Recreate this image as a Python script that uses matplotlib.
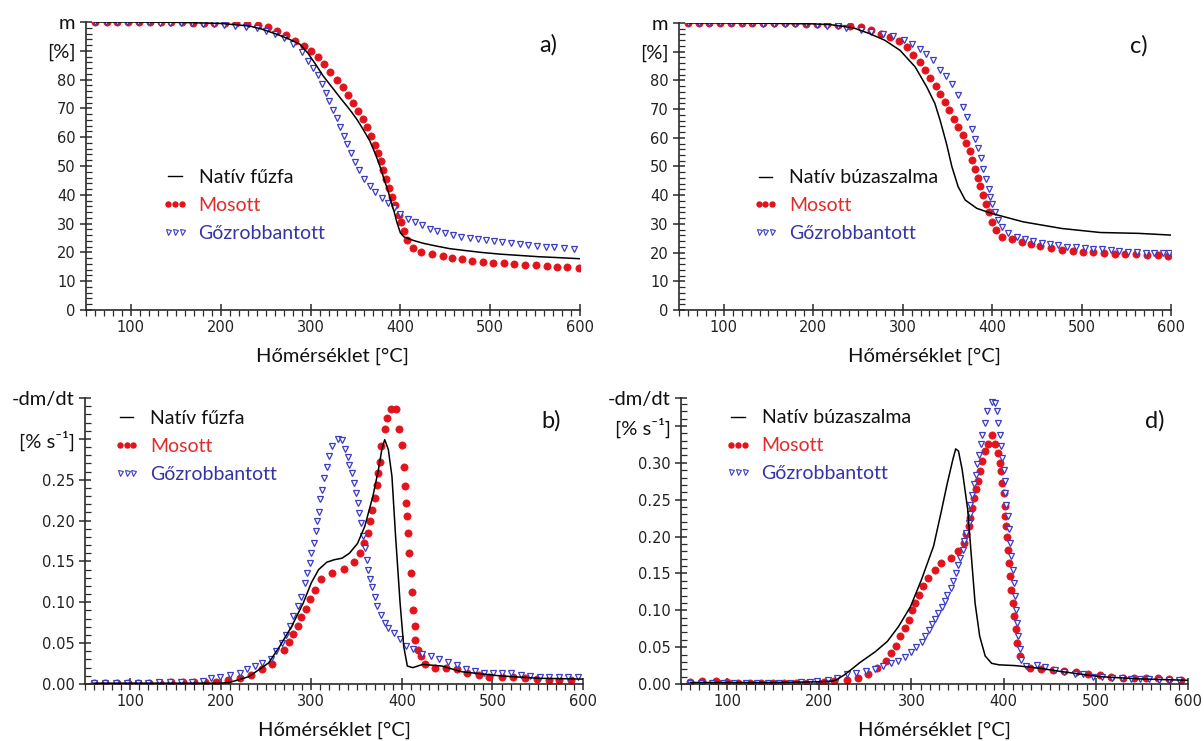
import matplotlib
matplotlib.use("Agg")
import matplotlib.pyplot as plt
from matplotlib.ticker import MultipleLocator, FixedLocator
from matplotlib.lines import Line2D

# ---------------- data ----------------
# a) willow, TG curves (mass %, vs temperature °C)
a_native_T = [60, 100, 150, 200, 232, 245, 262, 275, 288, 297, 305, 314, 320, 327, 334, 340, 346, 352,
              357, 361, 366, 370, 373, 376, 379, 382, 386, 389, 393, 396, 400, 404, 408, 415, 425,
              440, 455, 468, 490, 511, 530, 554, 575, 600]
a_native_m = [100, 100, 99.9, 99.5, 98.6, 97.6, 95.8, 94.2, 92.3, 89.2, 85.6, 81.3, 78.9, 76.1, 73.3,
              71.0, 68.6, 66.0, 63.5, 61.4, 58.7, 55.8, 53.5, 51.0, 48.3, 45.2, 41.6, 38.4, 34.2, 30.6,
              26.8, 25.4, 24.9, 24.1, 23.2, 22.2, 21.3, 20.8, 20.0, 19.4, 19.0, 18.5, 18.2, 17.8]

a_washed_T = [60, 73, 85, 97, 109, 121, 133, 145, 157, 169, 181, 193, 205, 217, 229, 241, 253, 263, 273,
              283, 293, 301, 308, 315, 322, 329, 336, 342, 347, 353, 358, 363, 367, 372, 375, 378, 381,
              384, 387, 391, 394, 398, 401, 404, 407, 414, 423, 435, 447, 457, 469, 480, 492, 503, 515,
              527, 539, 551, 563, 574, 586, 599]
a_washed_m = [100, 100, 100, 100, 100, 100, 100, 99.9, 99.9, 99.8, 99.8, 99.7, 99.6, 99.5, 99.3, 99.0,
              98.4, 97.0, 95.5, 93.5, 91.5, 90.0, 87.8, 85.3, 82.6, 80.0, 77.3, 74.5, 71.8, 69.2, 66.3,
              63.4, 60.5, 57.4, 54.5, 51.6, 48.7, 45.5, 42.5, 39.4, 36.4, 33.0, 30.4, 27.3, 24.3, 21.6,
              20.2, 19.4, 18.8, 18.2, 17.6, 17.1, 16.7, 16.4, 16.2, 16.0, 15.7, 15.5, 15.3, 15.1, 15.0,
              14.7]

a_steam_T = [60, 72, 84, 96, 108, 120, 132, 144, 156, 168, 180, 192, 204, 216, 228, 240, 250, 260, 270,
             280, 290, 297, 303, 308, 313, 317, 321, 325, 329, 333, 337, 341, 345, 349, 354, 360, 366,
             372, 379, 386, 393, 400, 408, 416, 424, 433, 441, 450, 459, 467, 477, 486, 495, 504, 513,
             523, 533, 542, 552, 562, 571, 582, 593]
a_steam_m = [100, 100, 100, 100, 99.9, 99.9, 99.8, 99.7, 99.6, 99.5, 99.4, 99.2, 99.0, 98.7, 98.3, 97.8,
             97.0, 95.8, 94.5, 92.5, 89.5, 86.5, 84.0, 81.5, 78.5, 75.5, 72.5, 69.5, 66.5, 63.5, 60.5,
             57.5, 54.5, 51.5, 48.5, 45.5, 43.0, 41.0, 39.0, 37.0, 35.5, 33.5, 31.5, 30.4, 29.4, 28.2,
             27.3, 26.6, 26.0, 25.4, 24.9, 24.5, 24.2, 23.9, 23.5, 23.2, 22.8, 22.5, 22.2, 22.0, 21.8,
             21.6, 21.3]

# c) wheat straw, TG curves
c_native_T = [60, 100, 150, 200, 220, 245, 263, 280, 297, 314, 327, 336, 342, 349, 355, 362, 370, 383,
              400, 435, 478, 521, 564, 600]
c_native_m = [100, 100, 99.9, 99.7, 99.4, 98.3, 96.3, 94.0, 90.5, 84.7, 77.7, 72.0, 66.0, 58.0, 50.0,
              43.0, 38.3, 35.4, 33.6, 30.7, 28.4, 27.0, 26.7, 26.1]

c_washed_T = [60, 72, 84, 96, 108, 120, 132, 144, 156, 168, 180, 192, 204, 216, 228, 241, 253, 265, 276,
              286, 296, 305, 312, 319, 325, 331, 337, 342, 347, 352, 357, 362, 367, 371, 375, 378, 381,
              384, 387, 390, 393, 396, 400, 404, 411, 422, 433, 443, 454, 466, 478, 490, 502, 513, 525,
              537, 549, 561, 573, 585, 597]
c_washed_m = [100, 100, 100, 100, 100, 100, 100, 100, 100, 99.9, 99.9, 99.8, 99.7, 99.6, 99.4, 99.1,
              98.6, 97.4, 96.3, 95.1, 93.6, 91.6, 89.0, 86.3, 83.5, 80.9, 78.0, 75.2, 72.5, 69.6, 66.7,
              63.8, 61.1, 58.2, 55.3, 52.4, 49.3, 46.0, 43.2, 40.0, 37.1, 34.0, 30.7, 27.8, 25.5, 24.6,
              23.8, 23.0, 22.3, 21.6, 21.0, 20.6, 20.3, 20.1, 19.8, 19.6, 19.5, 19.4, 19.1, 19.0, 18.8]

c_steam_T = [60, 72, 84, 96, 108, 120, 132, 144, 156, 168, 180, 192, 204, 216, 228, 237, 254, 265, 278,
             289, 301, 310, 319, 326, 334, 342, 349, 355, 362, 368, 372, 377, 381, 384, 388, 390, 393,
             396, 398, 400, 403, 407, 411, 418, 428, 437, 446, 456, 465, 474, 484, 494, 504, 513, 523,
             533, 542, 552, 562, 572, 581, 591, 598]
c_steam_m = [100, 100, 100, 100, 100, 99.9, 99.9, 99.8, 99.8, 99.7, 99.6, 99.5, 99.3, 99.1, 98.8, 98.3,
             97.4, 96.8, 96.3, 95.4, 94.2, 92.8, 91.0, 89.3, 87.2, 83.5, 81.4, 78.9, 74.8, 70.8, 67.3,
             63.2, 59.7, 56.3, 52.8, 49.3, 45.6, 42.3, 39.4, 37.1, 34.2, 31.3, 29.0, 26.7, 25.3, 24.6,
             24.1, 23.5, 23.1, 22.6, 22.0, 21.8, 21.5, 21.3, 21.1, 20.8, 20.5, 20.3, 20.1, 20.0, 20.0,
             19.7, 19.7]

# b) willow, DTG curves (-dm/dt, % s^-1)
b_native_T = [60, 100, 150, 200, 210, 231, 253, 265, 278, 291, 300, 308, 317, 325, 334, 342, 351, 359,
              368, 374, 378, 381, 385, 389, 393, 398, 402, 406, 412, 423, 444, 466, 508, 551, 600]
b_native_r = [0.001, 0.001, 0.001, 0.001, 0.002, 0.009, 0.026, 0.046, 0.070, 0.099, 0.124, 0.140,
              0.149, 0.152, 0.154, 0.160, 0.172, 0.193, 0.230, 0.262, 0.288, 0.299, 0.287, 0.254,
              0.181, 0.099, 0.046, 0.022, 0.020, 0.024, 0.022, 0.015, 0.010, 0.007, 0.006]

b_washed_T = [60, 72, 85, 97, 109, 121, 133, 145, 158, 170, 182, 195, 208, 221, 233, 246, 257, 270,
              275, 280, 285, 289, 294, 299, 304, 311, 323, 336, 347, 354, 358, 362, 365, 367, 370, 372,
              374, 376, 377, 381, 384, 388, 393, 397, 400, 402, 403, 405, 406, 407, 408, 410, 411, 412,
              414, 415, 418, 421, 425, 436, 449, 461, 472, 485, 496, 510, 523, 536, 549, 562, 574, 587]
b_washed_r = [0.001, 0.001, 0.001, 0.001, 0.001, 0.001, 0.001, 0.002, 0.002, 0.002, 0.002, 0.003,
              0.005, 0.007, 0.011, 0.018, 0.024, 0.041, 0.051, 0.061, 0.071, 0.082, 0.092, 0.104,
              0.115, 0.128, 0.136, 0.141, 0.149, 0.160, 0.173, 0.185, 0.199, 0.213, 0.228, 0.244,
              0.258, 0.272, 0.291, 0.312, 0.325, 0.336, 0.336, 0.312, 0.293, 0.266, 0.242, 0.221,
              0.205, 0.185, 0.160, 0.136, 0.113, 0.091, 0.071, 0.054, 0.042, 0.034, 0.024, 0.020,
              0.020, 0.018, 0.014, 0.011, 0.009, 0.009, 0.009, 0.007, 0.006, 0.005, 0.005, 0.005]

b_steam_T = [60, 72, 84, 96, 108, 120, 132, 144, 156, 168, 180, 189, 199, 210, 221, 229, 238, 246, 255,
             261, 268, 272, 276, 280, 285, 289, 293, 295, 299, 300, 303, 305, 306, 308, 310, 312, 314,
             317, 320, 323, 329, 334, 337, 340, 342, 345, 347, 349, 351, 353, 355, 357, 359, 361, 363,
             365, 367, 370, 373, 377, 381, 385, 391, 398, 405, 412, 422, 432, 441, 451, 461, 471, 481,
             491, 501, 511, 521, 532, 542, 552, 562, 573, 583, 594]
b_steam_r = [0.001, 0.001, 0.001, 0.001, 0.001, 0.001, 0.002, 0.002, 0.002, 0.003, 0.004, 0.007,
             0.009, 0.011, 0.014, 0.018, 0.022, 0.026, 0.030, 0.040, 0.050, 0.060, 0.071, 0.083,
             0.095, 0.107, 0.124, 0.136, 0.148, 0.160, 0.172, 0.187, 0.199, 0.211, 0.226, 0.238,
             0.252, 0.266, 0.279, 0.291, 0.300, 0.298, 0.287, 0.278, 0.268, 0.258, 0.246, 0.234,
             0.221, 0.209, 0.197, 0.181, 0.166, 0.152, 0.140, 0.128, 0.119, 0.107, 0.095, 0.084,
             0.075, 0.069, 0.062, 0.055, 0.047, 0.043, 0.037, 0.034, 0.031, 0.027, 0.023, 0.018,
             0.016, 0.014, 0.013, 0.013, 0.013, 0.011, 0.010, 0.009, 0.009, 0.009, 0.008, 0.008]

# d) wheat straw, DTG curves
d_native_T = [60, 100, 150, 200, 215, 219, 228, 244, 261, 274, 286, 299, 311, 324, 332, 339, 345, 348,
              351, 355, 361, 365, 369, 374, 380, 387, 395, 412, 420, 441, 462, 504, 546, 600]
d_native_r = [0.002, 0.002, 0.002, 0.003, 0.004, 0.006, 0.013, 0.029, 0.044, 0.058, 0.078, 0.105,
              0.142, 0.187, 0.232, 0.273, 0.305, 0.319, 0.316, 0.291, 0.237, 0.173, 0.110, 0.065,
              0.038, 0.028, 0.026, 0.025, 0.024, 0.021, 0.017, 0.010, 0.007, 0.005]

d_washed_T = [60, 73, 88, 100, 112, 125, 137, 150, 162, 175, 187, 200, 205, 216, 230, 242, 253, 263,
              272, 278, 283, 288, 293, 297, 301, 304, 308, 313, 318, 325, 332, 343, 351, 357, 359, 362,
              364, 366, 368, 370, 372, 374, 377, 380, 383, 387, 391, 394, 396, 397, 398, 400, 401, 402,
              403, 404, 405, 406, 407, 408, 410, 411, 413, 415, 418, 429, 441, 454, 466, 479, 491, 504,
              516, 529, 541, 554, 567, 579, 592]
d_washed_r = [0.003, 0.0045, 0.0045, 0.003, 0.002, 0.002, 0.002, 0.002, 0.002, 0.002, 0.002, 0.002,
              0.003, 0.004, 0.005, 0.008, 0.014, 0.022, 0.031, 0.042, 0.052, 0.065, 0.076, 0.087,
              0.100, 0.110, 0.121, 0.133, 0.144, 0.155, 0.164, 0.171, 0.180, 0.191, 0.203, 0.214,
              0.225, 0.239, 0.252, 0.264, 0.275, 0.289, 0.302, 0.316, 0.325, 0.338, 0.325, 0.313,
              0.300, 0.289, 0.273, 0.259, 0.241, 0.228, 0.214, 0.200, 0.182, 0.164, 0.146, 0.128,
              0.110, 0.092, 0.074, 0.056, 0.038, 0.022, 0.020, 0.019, 0.018, 0.016, 0.014, 0.012,
              0.010, 0.008, 0.008, 0.008, 0.008, 0.007, 0.006]

d_steam_T = [60, 72, 84, 96, 108, 120, 132, 144, 156, 168, 180, 190, 198, 209, 219, 230, 240, 251, 260,
             269, 278, 285, 293, 300, 305, 311, 315, 319, 322, 326, 329, 333, 336, 339, 343, 345, 348,
             350, 353, 356, 357, 359, 362, 363, 364, 366, 368, 370, 371, 373, 375, 377, 380, 382, 387,
             391, 393, 394, 396, 397, 398, 400, 401, 402, 403, 405, 406, 407, 408, 410, 411, 412, 413,
             415, 416, 418, 419, 424, 436, 445, 456, 466, 477, 486, 497, 507, 518, 528, 538, 548, 558,
             569, 579, 590]
d_steam_r = [0.001, 0.002, 0.001, 0.001, 0.001, 0.002, 0.001, 0.002, 0.002, 0.002, 0.003, 0.003,
             0.004, 0.005, 0.008, 0.013, 0.015, 0.017, 0.020, 0.024, 0.028, 0.031, 0.037, 0.043,
             0.050, 0.057, 0.065, 0.073, 0.081, 0.088, 0.096, 0.105, 0.113, 0.121, 0.130, 0.140,
             0.151, 0.161, 0.171, 0.182, 0.194, 0.205, 0.218, 0.230, 0.243, 0.257, 0.271, 0.284,
             0.298, 0.311, 0.325, 0.338, 0.354, 0.370, 0.383, 0.381, 0.370, 0.354, 0.338, 0.323,
             0.307, 0.291, 0.275, 0.259, 0.243, 0.228, 0.210, 0.191, 0.173, 0.155, 0.137, 0.119,
             0.101, 0.083, 0.065, 0.047, 0.033, 0.025, 0.026, 0.023, 0.019, 0.016, 0.014, 0.013,
             0.010, 0.010, 0.008, 0.008, 0.007, 0.007, 0.007, 0.006, 0.006, 0.005]

# labels
x_label = "Hőmérséklet [°C]"
tg_ticks = [0, 10, 20, 30, 40, 50, 60, 70, 80, 90, 100]
tg_ticklabels = ["0", "10", "20", "30", "40", "50", "60", "70", "80", "[%]", "m"]
b_ticks = [0.0, 0.05, 0.10, 0.15, 0.20, 0.25, 0.30, 0.35]
b_ticklabels = ["0.00", "0.05", "0.10", "0.15", "0.20", "0.25", "[% s⁻¹]", "-dm/dt"]
d_ticks = [0.0, 0.05, 0.10, 0.15, 0.20, 0.25, 0.30, 0.35, 0.388]
d_ticklabels = ["0.00", "0.05", "0.10", "0.15", "0.20", "0.25", "0.30", "[% s⁻¹]", "-dm/dt"]
legend_willow = ["Natív fűzfa", "Mosott", "Gőzrobbantott"]
legend_wheat = ["Natív búzaszalma", "Mosott", "Gőzrobbantott"]

# ---------------- styling ----------------
TXT_FONT = ["Lato", "DejaVu Sans"]
TICK_FONT = ["DejaVu Sans"]
RED = "#e3121b"
BLUE = "#3c3cc4"
RED_TXT = "#e32a2a"
BLUE_TXT = "#3434a6"
SPINE = "#2a2a2a"

fig = plt.figure(figsize=(12.04, 7.41), dpi=100)
W, H = 1204, 741


def box(left, right, top, bottom):
    return [left / W, 1 - bottom / H, (right - left) / W, (bottom - top) / H]


ax_a = fig.add_axes(box(86, 580, 22, 310))
ax_c = fig.add_axes(box(679, 1171, 23, 310))
ax_b = fig.add_axes(box(85, 583, 398, 684))
ax_d = fig.add_axes(box(681, 1188, 398, 684))


def draw(ax, nat, wash, steam):
    ax.plot(nat[0], nat[1], color="black", lw=1.1, zorder=3)
    ax.plot(wash[0], wash[1], ls="none", marker="o", ms=5.2, mfc=RED, mec=RED, mew=0.5, zorder=2)
    ax.plot(steam[0], steam[1], ls="none", marker="v", ms=5.0, mfc="white", mec=BLUE, mew=0.9,
            zorder=2.5)


def style(ax, yticks, ylabels, ylim, ymin_step, special):
    ax.set_xlim(50, 600)
    ax.set_ylim(*ylim)
    for s in ("top", "right"):
        ax.spines[s].set_visible(False)
    for s in ("left", "bottom"):
        ax.spines[s].set_color(SPINE)
        ax.spines[s].set_linewidth(1.2)
    ax.xaxis.set_major_locator(FixedLocator([100, 200, 300, 400, 500, 600]))
    ax.xaxis.set_minor_locator(MultipleLocator(10))
    ax.yaxis.set_major_locator(FixedLocator(yticks))
    ax.yaxis.set_minor_locator(MultipleLocator(ymin_step))
    ax.set_yticklabels(ylabels)
    ax.tick_params(which="major", direction="inout", length=9, width=1.1, color=SPINE,
                   labelsize=10.5, labelcolor="#222222", pad=3)
    ax.tick_params(axis="x", which="minor", direction="out", length=4, width=0.9, color=SPINE)
    ax.tick_params(axis="y", which="minor", direction="in", length=4, width=0.9, color=SPINE)
    for lbl in ax.get_xticklabels() + ax.get_yticklabels():
        lbl.set_family(TICK_FONT)
    labels = ax.get_yticklabels()
    for lbl in labels[-special:]:
        lbl.set_family(TXT_FONT)
        lbl.set_fontsize(14.5)
        lbl.set_color("#111111")
    ax.set_xlabel(x_label, fontsize=14.5, family=TXT_FONT, color="#111111", labelpad=9)


def legend(ax, names, anchor):
    handles = [
        Line2D([], [], color="black", lw=1.0),
        Line2D([], [], ls="none", marker="o", ms=3.6, mfc=RED, mec=RED),
        Line2D([], [], ls="none", marker="v", ms=3.6, mfc="white", mec=BLUE, mew=0.8),
    ]
    leg = ax.legend(handles, names, loc="upper left", bbox_to_anchor=anchor, frameon=False,
                    numpoints=3, handlelength=1.3, handletextpad=0.55, labelspacing=0.56,
                    prop={"family": TXT_FONT, "size": 14}, borderpad=0, borderaxespad=0)
    for t, c in zip(leg.get_texts(), ["#111111", RED_TXT, BLUE_TXT]):
        t.set_color(c)


draw(ax_a, (a_native_T, a_native_m), (a_washed_T, a_washed_m), (a_steam_T, a_steam_m))
draw(ax_c, (c_native_T, c_native_m), (c_washed_T, c_washed_m), (c_steam_T, c_steam_m))
draw(ax_b, (b_native_T, b_native_r), (b_washed_T, b_washed_r), (b_steam_T, b_steam_r))
draw(ax_d, (d_native_T, d_native_r), (d_washed_T, d_washed_r), (d_steam_T, d_steam_r))

style(ax_a, tg_ticks, tg_ticklabels, (0, 100), 2, 2)
style(ax_c, tg_ticks, tg_ticklabels, (0, 100), 2, 2)
style(ax_b, b_ticks, b_ticklabels, (0, 0.35), 0.01, 2)
style(ax_d, d_ticks, d_ticklabels, (0, 0.388), 0.01, 2)

legend(ax_a, legend_willow, (0.155, 0.49))
legend(ax_c, legend_wheat, (0.15, 0.49))
legend(ax_b, legend_willow, (0.058, 0.957))
legend(ax_d, legend_wheat, (0.088, 0.96))

for ax, tag in ((ax_a, "a)"), (ax_c, "c)"), (ax_b, "b)"), (ax_d, "d)")):
    ax.text(0.935, 0.92, tag, transform=ax.transAxes, fontsize=17, family=TXT_FONT,
            color="#111111", ha="center", va="center")

fig.savefig("out.png", dpi=100, facecolor="white")
